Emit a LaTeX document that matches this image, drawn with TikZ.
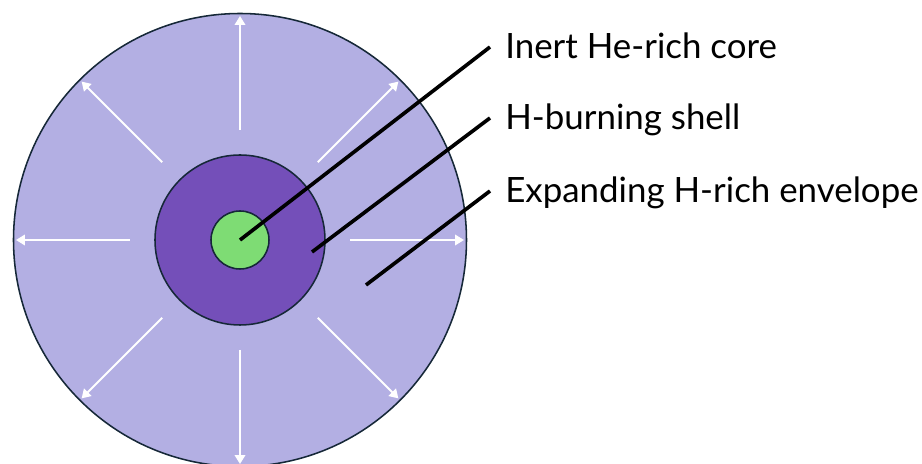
\documentclass[tikz,border=0pt]{standalone}
\usepackage{fontspec}
\setmainfont{Lato}
\usetikzlibrary{arrows.meta}
\definecolor{envlilac}{RGB}{179, 175, 227}
\definecolor{shellpurple}{RGB}{116, 79, 185}
\definecolor{coregreen}{RGB}{126, 220, 116}
\definecolor{rimnavy}{RGB}{22, 40, 56}

\begin{document}
\begin{tikzpicture}[x=0.025cm, y=0.025cm,
    layer/.style={draw=rimnavy, line width=1.1pt},
    flow/.style={white, line width=1.3pt, -{Triangle[length=0.22cm, width=0.26cm]}},
    leader/.style={black, line width=2.6pt},
    tag/.style={anchor=west, inner xsep=0.375cm, inner ysep=0pt,
      text height=0.6cm, text depth=0pt, font=\fontsize{24.8}{30}\selectfont}]
  \useasboundingbox (-240,-224) rectangle (682,240);
  % Envelope with outward arrows
  \fill[envlilac, layer] (0,0) circle (226.5);
  \foreach \a in {0,45,...,315}
    \draw[flow] (\a:110) -- (\a:224);
  % Shell and core
  \fill[shellpurple, layer] (0,0) circle (85);
  \fill[coregreen, layer] (0,0) circle (29);
  % Labels
  \node[tag] (corelab) at (250,193) {Inert He-rich core};
  \node[tag] (shelllab) at (250,122) {H-burning shell};
  \node[tag] (envlab) at (250,49) {Expanding H-rich envelope};
  \coordinate (corept) at (0,0);
  \coordinate (shellpt) at (72,-12);
  \coordinate (envpt) at (126,-45);
  \draw[leader] (corept) -- (corelab.west);
  \draw[leader] (shellpt) -- (shelllab.west);
  \draw[leader] (envpt) -- (envlab.west);
\end{tikzpicture}
\end{document}
